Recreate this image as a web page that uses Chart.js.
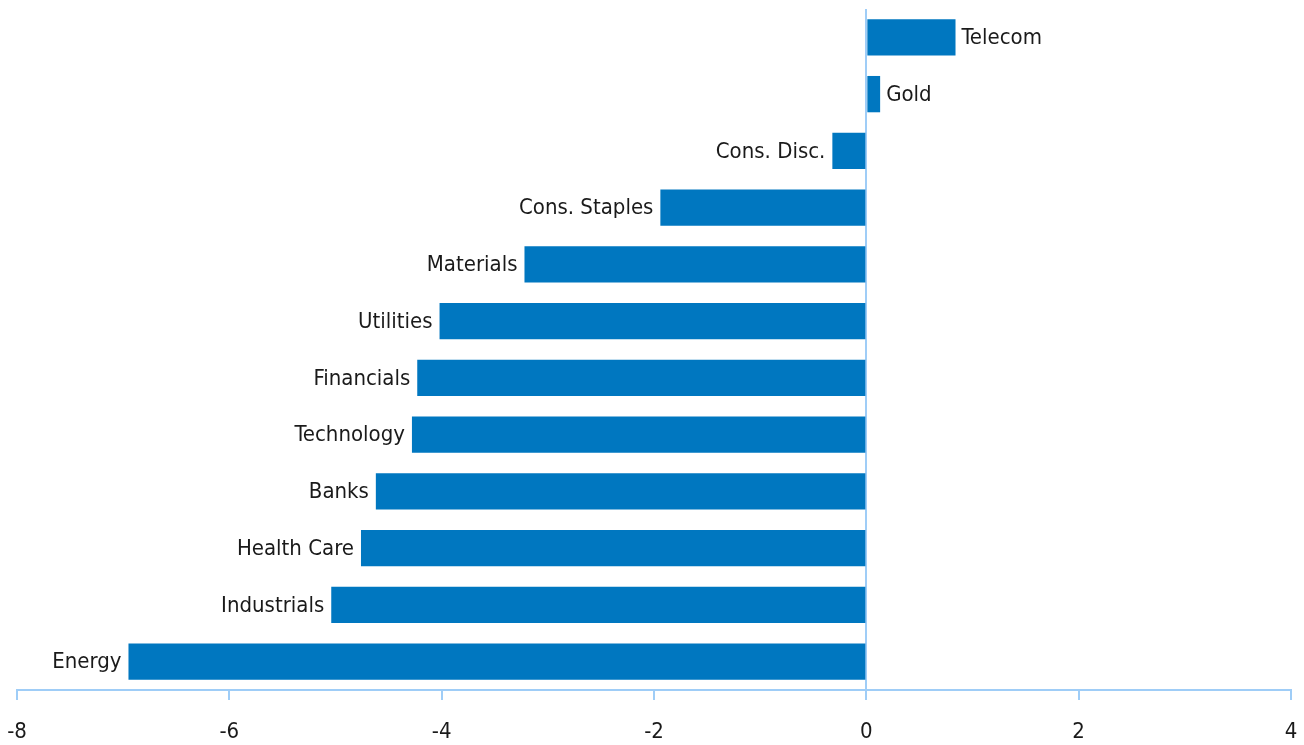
<!DOCTYPE html>
<html>
<head>
<meta charset="utf-8">
<script src="https://cdn.jsdelivr.net/npm/chart.js@4/dist/chart.umd.min.js"></script>
<style>
  html, body { margin: 0; padding: 0; background: #fff; }
  #wrap { width: 1304px; height: 745px; }
</style>
</head>
<body>
<div id="wrap"><canvas id="canvasOne"></canvas></div>
<script>
var sectors = ['Telecom', 'Gold', 'Cons. Disc.', 'Cons. Staples', 'Materials', 'Utilities',
               'Financials', 'Technology', 'Banks', 'Health Care', 'Industrials', 'Energy'];
var change = [0.84, 0.13, -0.32, -1.94, -3.22, -4.02, -4.23, -4.28, -4.62, -4.76, -5.04, -6.95];
var xTicks = [-8, -6, -4, -2, 0, 2, 4];

var fontName = '"Liberation Sans Narrow", "DejaVu Sans Condensed", sans-serif';
var axisBlue = '#9fcdf7';

// labels sit next to the end of each bar
var barLabels = {
   id: 'barLabels',
   afterDatasetsDraw: function(chart) {
      var ctx = chart.ctx;
      var meta = chart.getDatasetMeta(0);
      ctx.save();
      ctx.font = '22px ' + fontName;
      ctx.fillStyle = '#1a1a1a';
      ctx.textBaseline = 'middle';
      meta.data.forEach(function(bar, i) {
         if (change[i] >= 0) {
            ctx.textAlign = 'left';
            ctx.fillText(sectors[i], bar.x + 6, bar.y + 1);
         } else {
            ctx.textAlign = 'right';
            ctx.fillText(sectors[i], bar.x - 7, bar.y + 1);
         }
      });
      ctx.restore();
   }
};

var ctx = document.getElementById('canvasOne').getContext('2d');
var config = {
   type: 'bar',
   data: {
      labels: sectors,
      datasets: [{
         data: change,
         backgroundColor: '#0077c0',
         categoryPercentage: 1,
         barPercentage: 0.64
      }]
   },
   options: {
      indexAxis: 'y',
      responsive: true,
      maintainAspectRatio: false,
      animation: false,
      layout: { padding: { left: 17, right: 13, top: 9, bottom: 0 } },
      plugins: {
         legend: { display: false },
         tooltip: { enabled: false }
      },
      scales: {
         x: {
            min: -8,
            max: 4,
            afterBuildTicks: function(axis) {
               axis.ticks = xTicks.map(function(v) { return { value: v }; });
            },
            afterFit: function(axis) {
               axis.height = 55;
               axis.paddingLeft = 0;
               axis.paddingRight = 0;
            },
            border: { display: true, color: axisBlue, width: 2 },
            grid: {
               drawOnChartArea: true,
               color: function(c) { return c.tick && c.tick.value === 0 ? axisBlue : 'rgba(0,0,0,0)'; },
               lineWidth: 2,
               tickColor: axisBlue,
               tickLength: 10
            },
            ticks: {
               color: '#1a1a1a',
               font: { family: fontName, size: 22 },
               padding: 19,
               maxRotation: 0
            }
         },
         y: {
            display: false
         }
      }
   },
   plugins: [barLabels]
};

var chart = new Chart(ctx, config);
</script>
</body>
</html>
